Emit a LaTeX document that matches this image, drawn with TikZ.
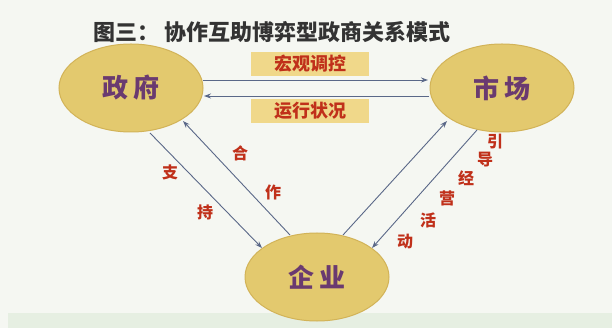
\documentclass[tikz,border=0pt]{standalone}
\usepackage{fontspec}
\newfontfamily\cjk{Noto Sans CJK SC}
\usetikzlibrary{arrows.meta,shapes.geometric}
\definecolor{bgc}{HTML}{F5F7F2}
\definecolor{strip}{HTML}{E6EFE2}
\definecolor{ellfill}{HTML}{E3C96E}
\definecolor{elldraw}{HTML}{D2B358}
\definecolor{elltext}{HTML}{6A3A70}
\definecolor{boxfill}{HTML}{F0D88A}
\definecolor{labred}{HTML}{C0301A}
\definecolor{arr}{HTML}{5A6888}
\definecolor{titlec}{HTML}{333333}
\tikzset{
  ell/.style={ellipse, fill=ellfill, draw=elldraw, line width=1pt, minimum width=144pt, minimum height=88pt, text=elltext, font=\cjk\bfseries\fontsize{26}{26}\selectfont},
  lbox/.style={fill=boxfill, minimum width=118pt, minimum height=24pt, text=labred, font=\cjk\bfseries\fontsize{18}{18}\selectfont, inner sep=0pt},
  lab/.style={text=labred, font=\cjk\bfseries\fontsize{16}{16}\selectfont, inner sep=0pt},
  con/.style={draw=arr, line width=0.9pt, -{Stealth[length=7pt,width=5pt]}},
}
\begin{document}
\begin{tikzpicture}[x=1pt,y=-1pt]
\fill[bgc] (0,0) rectangle (612,328);
\fill[strip] (8,313) rectangle (612,328);
\useasboundingbox (0,0) rectangle (612,328);
\node[text=titlec, font=\cjk\bfseries\fontsize{22}{22}\selectfont] (title) at (272,32) {图三：\ 协作互助博弈型政商关系模式};
\node[ell] (gov) at (131,88) {政\,府};
\node[ell] (mkt) at (502,88) {市\,场};
\node[ell] (ent) at (317,277) {企\,业};
\node[lbox] (b1) at (310,64) {宏观调控};
\node[lbox] (b2) at (310,111) {运行状况};
\coordinate (g1) at (203,80);
\coordinate (m1) at (428,80);
\coordinate (g2) at (204,96);
\coordinate (m2) at (429,96);
\draw[con] (g1) -- (m1);
\draw[con] (m2) -- (g2);
\coordinate (ga) at (150,133);
\coordinate (ea) at (262,248);
\coordinate (eb) at (290,235);
\coordinate (gb) at (183,121);
\draw[con] (ga) -- (ea);
\draw[con] (eb) -- (gb);
\coordinate (ec) at (343,235);
\coordinate (mc) at (447,121);
\coordinate (md) at (477,130);
\coordinate (ed) at (372,248);
\draw[con] (ec) -- (mc);
\draw[con] (md) -- (ed);
\node[lab] (l1) at (170,172) {支};
\node[lab] (l2) at (205,212) {持};
\node[lab] (l3) at (240,153) {合};
\node[lab] (l4) at (273,192) {作};
\node[lab] (r1) at (495,142) {引};
\node[lab] (r2) at (485,160) {导};
\node[lab] (r3) at (466,178) {经};
\node[lab] (r4) at (447,198) {营};
\node[lab] (r5) at (428,220) {活};
\node[lab] (r6) at (405,242) {动};
\end{tikzpicture}
\end{document}
